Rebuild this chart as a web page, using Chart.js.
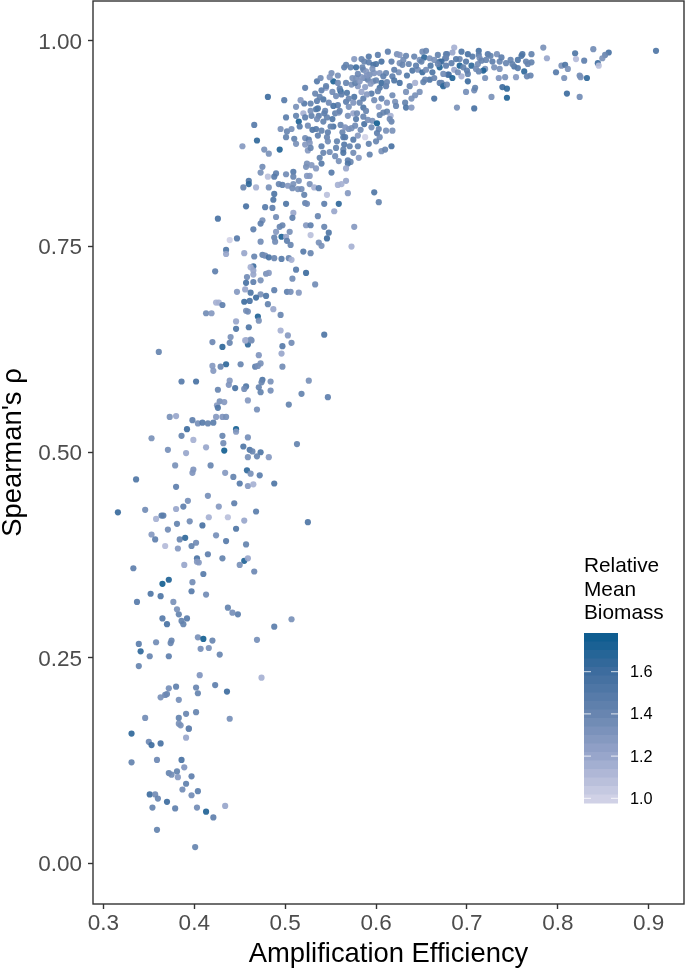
<!DOCTYPE html>
<html>
<head>
<meta charset="utf-8">
<title>Amplification efficiency vs Spearman's rho</title>
<script src="https://cdn.jsdelivr.net/npm/chart.js@4/dist/chart.umd.js"></script>
<style>
  html, body { margin: 0; padding: 0; background: #fff; }
  canvas { display: block; }
</style>
</head>
<body>
<canvas id="myChart" width="685" height="968"></canvas>
<script>
const xTickValues = [0.3, 0.4, 0.5, 0.6, 0.7, 0.8, 0.9];
const yTickValues = [0, 0.25, 0.5, 0.75, 1];
const legendTickValues = [1.0, 1.2, 1.4, 1.6];
const legendTitleLines = ["Relative", "Mean", "Biomass"];

// same order in all three arrays
const efficiency = [
  .365,.383,.392,.370,.386,.388,.339,.358,.375,.374,
  .341,.351,.372,.339,.404,.410,.420,.407,.416,.428,
  .406,.469,.474,.488,.507,.448,.442,.380,.372,.370,
  .368,.363,.383,.402,.404,.423,.436,.346,.383,.391,
  .402,.439,.383,.385,.394,.394,.391,.331,.350,.353,
  .363,.331,.359,.386,.389,.372,.375,.381,.382,.397,
  .391,.387,.404,.397,.351,.357,.360,.370,.354,.379,
  .403,.434,.413,.421,.359,.401,
  .361,.420,.431,.439,.459,.457,.463,.497,.507,.471,
  .496,.435,.420,.429,.421,.451,.467,.470,.473,.497,
  .386,.402,.439,.438,.445,.426,.457,.455,.475,.474,
  .484,.526,.471,.473,.484,.518,.547,.504,.459,.469,
  .428,.433,.425,.426,.373,.380,.398,.404,.409,.415,
  .421,.424,.431,.435,.392,.446,.446,.386,.353,.399,
  .431,.432,.459,.371,.391,.413,.433,.454,.461,.464,
  .473,.469,.459,.482,.513,.379,.418,.399,.398,.336,
  .434,.458,.462,.443,.472,.450,.459,.465,.488,.380,
  .415,.393,.444,.388,.380,.346,.427,.316,.468,.358,
  .364,.366,.416,.437,.455,.525,.381,.395,.409,.371,
  .446,.424,.353,.357,.384,.390,.402,.397,.368,.382,
  .435,.457,.415,.431,.403,.403,.405,.455,.459,.450,
  .389,.466,.333,.410,.398,.365,.372,.397,.352,.363,
  .413,.337,.377,.381,.437,
  .457,.478,.486,.501,.522,.524,.543,.559,.426,.490,
  .509,.508,.536,.554,.475,.473,.494,.497,.523,.528,
  .543,.576,.465,.505,.490,.548,.528,.488,.496,.501,
  .502,.489,.506,.546,.537,.540,.573,.447,.439,.473,
  .435,.435,.455,.466,.475,.478,.482,.488,.496,.504,
  .507,.520,.528,.423,.465,.462,.465,.465,.458,.457,
  .465,.473,.479,.482,.512,.523,.508,.533,.456,.447,
  .462,.488,.502,.506,.515,.473,.479,.468,.455,.461,
  .424,.427,.431,.481,.487,.457,.459,.413,.419,.495,
  .470,.471,.446,.460,.446,.495,.503,.543,.440,.462,.456,
  .481,.499,.522,.545,.553,.535,.539,.551,.558,.549,
  .565,.567,.572,.578,.576,.584,.592,.602,.613,.623,
  .626,.633,.651,.655,.668,.677,.587,.592,.597,.600,
  .606,.617,.626,.630,.642,.648,.653,.659,.664,.670,
  .676,.586,.589,.593,.598,.604,.611,.587,.584,.591,
  .597,.606,.618,.625,.629,.640,.646,.651,.655,.662,
  .670,.679,.659,.654,.643,.637,.626,.620,.673,.670,
  .664,.648,.643,.639,.633,.618,.621,.622,.632,.633,
  .639,.604,.611,.602,.595,.584,.580,.573,.567,.561,
  .558,.577,.586,.576,.567,.558,.553,.542,.538,.533,
  .535,.521,.528,.517,.512,.536,.520,.512,.501,.522,
  .529,.537,.555,.559,.546,.569,.575,.579,.586,.589,
  .603,.608,.612,.616,.515,.516,.525,.542,.553,.550,
  .530,.534,.495,.502,.507,.466,.501,.540,.547,.546,
  .563,.564,.566,.570,.573,.577,.587,.591,.596,.601,
  .603,.617,.611,.618,.601,.604,.580,.588,.510,.512,
  .522,.526,.522,.527,.469,.453,.494,.477,.482,.525,
  .540,.557,.565,.571,.580,.564,.564,.549,.542,.538,
  .555,.575,.581,.559,.569,.572,.569,.567,.593,.606,
  .610,.617,.540,.524,.529,.523,.534,.475,.473,.481,
  .490,.501,.509,.488,.551,.509,.524,.527,.567,.562,
  .558,.460,.460,.454,.468,.482,.493,.497,.503,.509,
  .508,.515,.514,.518,.527,.532,.537,.488,.487,.521,
  .546,.569,.598,.603,
  .686,.684,.694,.713,.678,.701,.723,.713,.733,.761,
  .771,.677,.692,.699,.706,.714,.721,.728,.736,.743,
  .748,.756,.760,.765,.771,.767,.672,.683,.692,.705,
  .712,.752,.756,.736,.763,.720,.718,.713,.677,.686,
  .680,.684,.694,.701,.701,.720,.735,.742,.754,.766,
  .770,.672,.674,.678,.699,.708,.709,.739,.744,.727,
  .744,.689,.708,.784,.788,.819,.839,.820,.829,.856,
  .852,.849,.844,.845,.804,.808,.811,.798,.807,.824,
  .825,.832,.810,.824,.908,
  .578,.582,.590,.594,.600,.588,.580,.596,.608,.585,
  .562,.570,.556,.548,.540,.534,.528,.544,.575,.560,
  .636,.644,.650,.660,.668,.674,.688,.696,.710,.726,
  .738,.750,.690,.700,.716,.730,.664,.652,.634,.620,
  .545,.552,.560,.568,.574,.582,.590,.598,.606,.612,
  .535,.543,.552,.561,.570,.578,.586,.595,.604,.612,
  .528,.536,.547,.556,.566,.575,.583,.592,.600,.615
];
const spearman = [
  .298,.303,.298,.291,.295,.291,.267,.269,.271,.268,
  .258,.252,.252,.240,.275,.273,.271,.261,.262,.254,
  .229,.272,.226,.288,.297,.303,.305,.215,.213,.206,
  .205,.202,.199,.214,.207,.217,.209,.177,.177,.182,
  .184,.176,.170,.168,.164,.164,.153,.158,.148,.144,
  .146,.123,.126,.126,.117,.110,.108,.112,.105,.106,
  .097,.090,.088,.083,.084,.084,.079,.075,.068,.067,
  .068,.070,.063,.056,.041,.020,
  .622,.634,.628,.633,.631,.636,.636,.629,.633,.618,
  .620,.607,.605,.604,.599,.607,.604,.605,.608,.604,
  .586,.586,.587,.582,.578,.576,.580,.577,.588,.585,
  .586,.587,.579,.573,.575,.571,.567,.558,.563,.552,
  .562,.561,.557,.554,.543,.544,.539,.535,.536,.535,
  .536,.543,.543,.543,.528,.528,.525,.520,.517,.515,
  .520,.511,.518,.503,.499,.506,.502,.507,.503,.501,
  .500,.495,.494,.494,.510,.484,.484,.479,.475,.467,
  .475,.478,.474,.470,.472,.462,.459,.461,.462,.458,
  .447,.441,.438,.434,.431,.430,.434,.427,.428,.419,
  .423,.423,.421,.421,.417,.415,.413,.416,.411,.406,
  .407,.399,.400,.394,.394,.396,.390,.386,.386,.383,
  .392,.388,.376,.371,.371,.367,.366,.368,.371,.363,
  .363,.355,.359,.352,.342,.340,.345,.331,.328,.325,
  .327,.318,.318,.309,.311,
  .799,.798,.797,.802,.803,.802,.802,.802,.784,.786,
  .791,.785,.787,.793,.782,.778,.774,.776,.776,.776,
  .774,.774,.771,.768,.768,.767,.764,.761,.762,.762,
  .757,.756,.752,.760,.755,.751,.750,.760,.758,.756,
  .746,.741,.742,.738,.740,.739,.737,.736,.735,.736,
  .734,.744,.742,.720,.726,.725,.721,.716,.713,.706,
  .707,.709,.717,.718,.722,.718,.711,.704,.698,.695,
  .694,.697,.695,.695,.694,.692,.690,.688,.683,.684,
  .682,.682,.679,.680,.674,.672,.671,.669,.669,.667,
  .665,.660,.659,.652,.650,.648,.642,.643,.640,.637,.636,
  .932,.928,.943,.943,.951,.951,.955,.961,.958,.956,
  .968,.971,.968,.968,.978,.978,.981,.983,.987,.984,
  .983,.982,.987,.988,.983,.984,.975,.974,.971,.972,
  .975,.975,.973,.977,.981,.977,.980,.979,.977,.975,
  .979,.965,.963,.959,.961,.961,.961,.955,.956,.953,
  .951,.949,.957,.962,.971,.964,.965,.962,.965,.962,
  .968,.959,.953,.953,.949,.945,.949,.952,.947,.949,
  .930,.938,.934,.930,.938,.934,.926,.921,.925,.919,
  .919,.943,.945,.939,.936,.938,.945,.947,.949,.939,
  .949,.949,.930,.932,.926,.922,.921,.929,.932,.936,
  .927,.924,.924,.928,.920,.918,.912,.909,.907,.907,
  .909,.909,.912,.913,.907,.909,.912,.912,.919,.915,
  .920,.913,.914,.909,.902,.896,.897,.902,.896,.896,
  .892,.893,.893,.890,.893,.898,.883,.891,.889,.883,
  .889,.883,.883,.893,.894,.897,.899,.904,.903,.900,
  .893,.902,.891,.891,.888,.883,.885,.883,.881,.875,
  .882,.880,.874,.876,.879,.872,.868,.868,.863,.867,
  .872,.878,.874,.872,.872,.868,.864,.865,.864,.858,
  .860,.864,.858,.854,.855,.853,.851,.845,.862,.866,
  .868,.872,.851,.851,.849,.847,.845,.847,.840,.835,
  .839,.838,.841,.835,.840,.835,.836,.836,.830,.826,
  .825,.830,.826,.822,.822,.822,.826,.825,.824,.826,
  .821,.830,.820,.820,.826,.822,.821,.814,.807,.813,
  .813,.815,.816,.804,
  .992,.986,.987,.988,.984,.984,.984,.983,.984,.984,
  .984,.979,.978,.975,.981,.979,.977,.975,.975,.973,
  .977,.977,.982,.975,.974,.972,.975,.973,.970,.970,
  .972,.969,.967,.966,.963,.966,.964,.963,.970,.965,
  .959,.955,.957,.960,.951,.955,.955,.956,.956,.957,
  .958,.949,.945,.947,.938,.940,.943,.944,.942,.932,
  .931,.919,.918,.992,.979,.985,.990,.978,.976,.986,
  .983,.979,.973,.970,.970,.971,.966,.962,.955,.958,
  .956,.955,.936,.932,.988,
  .955,.951,.958,.948,.952,.944,.960,.966,.957,.968,
  .935,.930,.933,.925,.940,.917,.915,.915,.925,.915,
  .972,.970,.975,.970,.972,.960,.978,.968,.966,.982,
  .980,.972,.962,.964,.976,.968,.955,.950,.958,.965,
  .945,.938,.942,.937,.955,.925,.935,.928,.930,.950,
  .905,.912,.905,.898,.920,.905,.908,.895,.910,.925,
  .870,.885,.878,.870,.895,.880,.892,.875,.878,.905
];
const biomass = [
  1.48,1.42,1.48,1.55,1.42,1.42,1.46,1.36,1.4,1.4,
  1.65,1.4,1.45,1.41,1.33,1.75,1.4,1.34,1.33,1.4,
  1.3,1.34,1.15,1.46,1.33,1.46,1.34,1.44,1.34,1.4,
  1.38,1.33,1.34,1.4,1.41,1.45,1.6,1.36,1.42,1.4,
  1.41,1.34,1.33,1.33,1.42,1.42,1.2,1.65,1.38,1.6,
  1.55,1.42,1.38,1.55,1.3,1.41,1.36,1.42,1.28,1.45,
  1.44,1.36,1.46,1.36,1.6,1.36,1.4,1.6,1.41,1.44,
  1.36,1.2,1.7,1.45,1.42,1.41,
  1.41,1.38,1.65,1.4,1.65,1.33,1.36,1.48,1.36,1.3,
  1.2,1.65,1.28,1.4,1.28,1.4,1.45,1.34,1.33,1.36,
  1.48,1.55,1.28,1.3,1.55,1.4,1.52,1.36,1.52,1.4,
  1.33,1.33,1.4,1.42,1.34,1.42,1.45,1.42,1.28,1.34,
  1.33,1.28,1.28,1.52,1.33,1.2,1.45,1.34,1.48,1.42,
  1.46,1.28,1.3,1.34,1.6,1.75,1.28,1.42,1.33,1.15,
  1.4,1.36,1.34,1.34,1.2,1.2,1.75,1.52,1.52,1.4,
  1.52,1.4,1.33,1.28,1.42,1.33,1.4,1.3,1.3,1.52,
  1.28,1.65,1.33,1.42,1.46,1.48,1.28,1.15,1.52,1.45,
  1.34,1.34,1.45,1.45,1.2,1.36,1.28,1.62,1.46,1.15,
  1.46,1.46,1.15,1.08,1.2,1.52,1.42,1.36,1.55,1.36,
  1.52,1.34,1.28,1.45,1.4,1.65,1.36,1.42,1.1,1.28,
  1.48,1.42,1.45,1.42,1.55,1.28,1.28,1.7,1.2,1.33,
  1.2,1.38,1.45,1.48,1.36,1.75,1.7,1.48,1.52,1.52,
  1.36,1.48,1.33,1.33,1.42,
  1.55,1.48,1.45,1.52,1.42,1.36,1.45,1.65,1.55,1.36,
  1.2,1.45,1.4,1.2,1.33,1.45,1.4,1.4,1.28,1.45,
  1.4,1.28,1.45,1.33,1.28,1.52,1.08,1.4,1.7,1.2,
  1.45,1.36,1.4,1.6,1.33,1.33,1.15,1.48,1.0,1.36,
  1.52,1.2,1.2,1.4,1.42,1.36,1.55,1.4,1.48,1.4,
  1.15,1.48,1.4,1.45,1.6,1.15,1.2,1.2,1.36,1.55,
  1.45,1.33,1.33,1.28,1.48,1.6,1.36,1.36,1.2,1.28,
  1.52,1.45,1.45,1.34,1.28,1.33,1.52,1.6,1.6,1.55,
  1.15,1.15,1.45,1.42,1.2,1.33,1.36,1.36,1.28,1.4,
  1.7,1.33,1.2,1.52,1.52,1.15,1.28,1.52,1.33,1.33,1.15,
  1.6,1.48,1.45,1.2,1.7,1.48,1.36,1.33,1.33,1.28,
  1.45,1.42,1.42,1.6,1.28,1.4,1.48,1.45,1.45,1.33,
  1.28,1.4,1.36,1.4,1.42,1.4,1.4,1.45,1.55,1.52,
  1.55,1.45,1.33,1.36,1.4,1.33,1.65,1.33,1.33,1.52,
  1.45,1.4,1.28,1.33,1.3,1.28,1.4,1.36,1.28,1.4,
  1.33,1.6,1.45,1.33,1.4,1.52,1.33,1.6,1.36,1.52,
  1.7,1.52,1.52,1.4,1.15,1.4,1.55,1.52,1.7,1.45,
  1.55,1.33,1.33,1.33,1.33,1.36,1.33,1.4,1.42,1.52,
  1.28,1.52,1.45,1.4,1.48,1.2,1.28,1.33,1.4,1.7,
  1.36,1.42,1.45,1.52,1.45,1.45,1.55,1.52,1.42,1.4,
  1.45,1.48,1.42,1.28,1.33,1.52,1.15,1.42,1.46,1.45,
  1.42,1.45,1.42,1.33,1.42,1.33,1.2,1.36,1.52,1.4,
  1.2,1.4,1.42,1.15,1.7,1.48,1.36,1.42,1.55,1.42,
  1.52,1.48,1.33,1.4,1.33,1.48,1.42,1.42,1.45,1.4,
  1.4,1.48,1.48,1.33,1.33,1.36,1.55,1.33,1.33,1.75,
  1.4,1.4,1.33,1.33,1.45,1.36,1.28,1.0,1.42,1.33,
  1.36,1.45,1.28,1.28,1.65,1.28,1.7,1.33,1.33,1.28,
  1.45,1.42,1.48,1.42,1.42,1.42,1.52,1.36,1.4,1.42,
  1.36,1.36,1.28,1.33,1.45,1.4,1.52,1.2,1.42,1.33,
  1.4,1.55,1.48,1.33,1.28,1.33,1.28,1.36,1.33,1.08,
  1.45,1.36,1.48,1.48,1.48,1.4,1.28,1.28,1.2,1.15,
  1.15,1.52,1.65,1.4,1.15,1.33,1.4,1.45,1.28,1.33,
  1.36,1.33,1.33,1.36,1.33,1.15,1.48,1.52,1.52,1.42,
  1.08,1.28,1.52,1.42,
  1.15,1.2,1.52,1.55,1.45,1.55,1.48,1.45,1.33,1.52,
  1.42,1.4,1.4,1.48,1.48,1.33,1.4,1.45,1.4,1.4,
  1.4,1.52,1.52,1.4,1.42,1.4,1.6,1.45,1.7,1.65,
  1.36,1.52,1.48,1.33,1.65,1.33,1.7,1.4,1.45,1.2,
  1.55,1.7,1.15,1.42,1.6,1.33,1.3,1.33,1.28,1.4,
  1.4,1.42,1.65,1.36,1.34,1.36,1.42,1.6,1.65,1.33,
  1.7,1.33,1.55,1.33,1.2,1.52,1.36,1.1,1.45,1.55,
  1.4,1.33,1.6,1.08,1.33,1.52,1.33,1.48,1.33,1.36,
  1.33,1.65,1.6,1.36,1.52,
  1.33,1.28,1.3,1.28,1.4,1.25,1.38,1.32,1.45,1.4,
  1.45,1.4,1.36,1.38,1.45,1.5,1.33,1.4,1.3,1.4,
  1.4,1.45,1.42,1.5,1.4,1.36,1.48,1.42,1.36,1.42,
  1.45,1.42,1.36,1.45,1.4,1.33,1.4,1.42,1.5,1.45,
  1.42,1.36,1.45,1.5,1.33,1.4,1.28,1.36,1.45,1.4,
  1.36,1.45,1.52,1.4,1.33,1.48,1.4,1.36,1.42,1.3,
  1.4,1.45,1.36,1.42,1.3,1.48,1.36,1.42,1.4,1.36
];

if (efficiency.length !== spearman.length || efficiency.length !== biomass.length) {
  throw new Error("lengths " + efficiency.length + " " + spearman.length + " " + biomass.length);
}

const FONT = '"Liberation Sans", Arial, sans-serif';

const colorStops = [
  [1.0, [208, 209, 230]],
  [1.2, [152, 166, 203]],
  [1.4, [104, 133, 176]],
  [1.6, [62, 108, 158]],
  [1.8, [4, 90, 141]],
];

function biomassRgb(v) {
  let i = 0;
  while (i < colorStops.length - 2 && v > colorStops[i + 1][0]) i++;
  const [v0, c0] = colorStops[i];
  const [v1, c1] = colorStops[i + 1];
  const t = Math.max(0, Math.min(1, (v - v0) / (v1 - v0)));
  return c0.map((c, k) => Math.round(c + (c1[k] - c) * t));
}

// panel border and the colour bar legend
const panelAndLegend = {
  id: "panelAndLegend",
  afterDraw(chart) {
    const { ctx, chartArea: a } = chart;
    ctx.save();
    ctx.strokeStyle = "#333333";
    ctx.lineWidth = 1.4;
    ctx.strokeRect(a.left, a.top, a.right - a.left, a.bottom - a.top);

    const barLeft = 584, barW = 34, barTop = 633, barBottom = 803, bins = 20;
    const yOf = v => 798.3 - (v - 1) * 211;
    const binH = (barBottom - barTop) / bins;
    for (let i = 0; i < bins; i++) {
      const top = barTop + i * binH;
      const v = 1 + (798.3 - (top + binH / 2)) / 211;
      ctx.fillStyle = "rgb(" + biomassRgb(v).join(",") + ")";
      ctx.fillRect(barLeft, top, barW, binH + 0.5);
    }

    ctx.fillStyle = "#000";
    ctx.textBaseline = "alphabetic";
    ctx.textAlign = "left";
    ctx.font = "20.8px " + FONT;
    legendTitleLines.forEach((s, i) => ctx.fillText(s, 584, 572 + i * 23.5));

    ctx.font = "16.3px " + FONT;
    ctx.textBaseline = "middle";
    ctx.strokeStyle = "#ffffff";
    ctx.lineWidth = 0.8;
    legendTickValues.forEach(v => {
      const y = yOf(v);
      ctx.beginPath();
      ctx.moveTo(barLeft, y); ctx.lineTo(barLeft + 7, y);
      ctx.moveTo(barLeft + barW - 7, y); ctx.lineTo(barLeft + barW, y);
      ctx.stroke();
      ctx.fillText(v.toFixed(1), 630, y + 1);
    });
    ctx.restore();
  },
};

const ctx = document.getElementById("myChart").getContext("2d");

function noLabelPadding(s) {
  s.paddingLeft = 0; s.paddingRight = 0; s.paddingTop = 0; s.paddingBottom = 0;
}

new Chart(ctx, {
  type: "scatter",
  data: {
    datasets: [{
      label: "Relative Mean Biomass",
      data: efficiency.map((x, i) => ({ x: x, y: spearman[i] })),
      backgroundColor: biomass.map(v => "rgba(" + biomassRgb(v).join(",") + ",0.92)"),
      borderWidth: 0,
      pointRadius: 3.1,
    }],
  },
  plugins: [panelAndLegend],
  options: {
    responsive: false,
    animation: false,
    layout: { autoPadding: false, padding: { top: 1, right: 1, left: 0, bottom: 0 } },
    plugins: { legend: { display: false }, tooltip: { enabled: false } },
    scales: {
      x: {
        type: "linear",
        min: 0.2886,
        max: 0.9388,
        afterFit: s => { s.height = 64; noLabelPadding(s); },
        afterBuildTicks: s => { s.ticks = xTickValues.map(v => ({ value: v })); },
        grid: { drawOnChartArea: false, tickLength: 5, tickColor: "#333333", tickWidth: 1.4 },
        border: { display: false },
        ticks: {
          maxRotation: 0,
          padding: 1.5,
          color: "#4d4d4d",
          font: { family: FONT, size: 22.5 },
          callback: v => v.toFixed(1),
        },
        title: {
          display: true,
          text: "Amplification Efficiency",
          color: "#000",
          font: { family: FONT, size: 27.4, lineHeight: 1 },
          padding: { top: 0, bottom: 0 },
        },
      },
      y: {
        type: "linear",
        min: -0.0492,
        max: 1.0486,
        afterFit: s => { s.width = 93; noLabelPadding(s); },
        afterBuildTicks: s => { s.ticks = yTickValues.map(v => ({ value: v })); },
        grid: { drawOnChartArea: false, tickLength: 5, tickColor: "#333333", tickWidth: 1.4 },
        border: { display: false },
        ticks: {
          padding: 6,
          labelOffset: 1.5,
          color: "#4d4d4d",
          font: { family: FONT, size: 22.5 },
          callback: v => v.toFixed(2),
        },
        title: {
          display: true,
          text: "Spearman's ρ",
          color: "#000",
          font: { family: FONT, size: 27.4, lineHeight: 1 },
          padding: { top: 0, bottom: 0 },
        },
      },
    },
  },
});
</script>
</body>
</html>
